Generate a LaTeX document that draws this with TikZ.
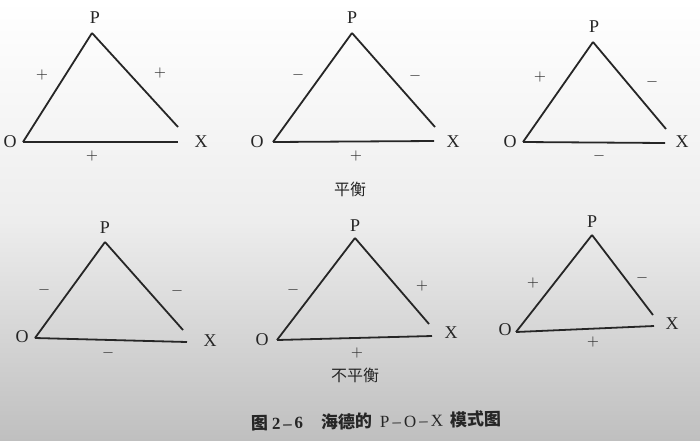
\documentclass[tikz,border=0pt]{standalone}
\usepackage{fontspec}
\setmainfont{Liberation Serif}
\newfontfamily\cjk{Noto Sans CJK SC}
\usetikzlibrary{backgrounds}

\begin{document}
\begin{tikzpicture}
[x=0.5pt, y=-0.5pt,
side/.style ={draw=black!85, line width=0.9pt},
vert/.style ={font=\fontsize{9}{10}\selectfont, text=black!85, inner sep=0pt},
sign/.style ={font=\fontsize{7}{8}\selectfont, text=black!80, inner sep=0pt},
title/.style ={font=\cjk\fontsize{8}{9}\selectfont, text=black!85, inner sep=0pt}]

% background, the photographed page
\fill [top color=white, bottom color=gray!50, middle color=gray!14]
  (0,0) rectangle (700,440);

% row 1, balanced
\coordinate (p1) at (92,33);   \coordinate (o1) at (23,142);
\coordinate (xa1) at (178,127); \coordinate (xb1) at (178,142);
\node (lp1) [vert] at (95,18) {P};
\node (lo1) [vert] at (10,142) {O};
\node (lx1) [vert] at (201,142) {X};
\draw [side] (p1) -- (o1);
\draw [side] (p1) -- (xa1);
\draw [side] (o1) -- (xb1);
\node (po1) [sign] at (42,75) {$+$};
\node (px1) [sign] at (160,73) {$+$};
\node (ox1) [sign] at (92,156) {$+$};

\coordinate (p2) at (352,33);   \coordinate (o2) at (273,142);
\coordinate (xa2) at (435,127); \coordinate (xb2) at (434,141);
\node (lp2) [vert] at (352,18) {P};
\node (lo2) [vert] at (257,142) {O};
\node (lx2) [vert] at (453,142) {X};
\draw [side] (p2) -- (o2);
\draw [side] (p2) -- (xa2);
\draw [side] (o2) -- (xb2);
\node (po2) [sign] at (298,75) {$-$};
\node (px2) [sign] at (415,76) {$-$};
\node (ox2) [sign] at (356,156) {$+$};

\coordinate (p3) at (593,42);   \coordinate (o3) at (523,142);
\coordinate (xa3) at (666,129); \coordinate (xb3) at (665,143);
\node (lp3) [vert] at (594,27) {P};
\node (lo3) [vert] at (510,142) {O};
\node (lx3) [vert] at (682,142) {X};
\draw [side] (p3) -- (o3);
\draw [side] (p3) -- (xa3);
\draw [side] (o3) -- (xb3);
\node (po3) [sign] at (540,77) {$+$};
\node (px3) [sign] at (652,82) {$-$};
\node (ox3) [sign] at (599,156) {$-$};

\node (bal) [title] at (350,189) {平衡};

% row 2, not balanced
\coordinate (p4) at (105,242);  \coordinate (o4) at (35,338);
\coordinate (xa4) at (183,330); \coordinate (xb4) at (187,342);
\node (lp4) [vert] at (105,228) {P};
\node (lo4) [vert] at (22,337) {O};
\node (lx4) [vert] at (210,341) {X};
\draw [side] (p4) -- (o4);
\draw [side] (p4) -- (xa4);
\draw [side] (o4) -- (xb4);
\node (po4) [sign] at (44,290) {$-$};
\node (px4) [sign] at (177,291) {$-$};
\node (ox4) [sign] at (108,353) {$-$};

\coordinate (p5) at (355,238);  \coordinate (o5) at (277,340);
\coordinate (xa5) at (429,324); \coordinate (xb5) at (432,336);
\node (lp5) [vert] at (355,226) {P};
\node (lo5) [vert] at (262,340) {O};
\node (lx5) [vert] at (451,333) {X};
\draw [side] (p5) -- (o5);
\draw [side] (p5) -- (xa5);
\draw [side] (o5) -- (xb5);
\node (po5) [sign] at (293,290) {$-$};
\node (px5) [sign] at (422,286) {$+$};
\node (ox5) [sign] at (357,353) {$+$};

\coordinate (p6) at (592,235);  \coordinate (o6) at (516,332);
\coordinate (xa6) at (653,315); \coordinate (xb6) at (654,326);
\node (lp6) [vert] at (592,222) {P};
\node (lo6) [vert] at (505,330) {O};
\node (lx6) [vert] at (672,324) {X};
\draw [side] (p6) -- (o6);
\draw [side] (p6) -- (xa6);
\draw [side] (o6) -- (xb6);
\node (po6) [sign] at (533,283) {$+$};
\node (px6) [sign] at (642,278) {$-$};
\node (ox6) [sign] at (593,342) {$+$};

\node (unbal) [title] at (355,375) {不平衡};

% caption
\node (cap) [title, font=\fontsize{8.5}{9}\selectfont, rotate=1] at (376,421)
  {{\cjk\bfseries 图}\hspace{2pt}{\bfseries 2\,\textendash\,6}\hspace{9pt}%
   {\cjk\bfseries 海德的}\hspace{4pt}P\hspace{1.5pt}\textendash\hspace{1.5pt}O%
   \hspace{1.5pt}\textendash\hspace{1.5pt}X\hspace{3.5pt}{\cjk\bfseries 模式图}};
\end{tikzpicture}
\end{document}
